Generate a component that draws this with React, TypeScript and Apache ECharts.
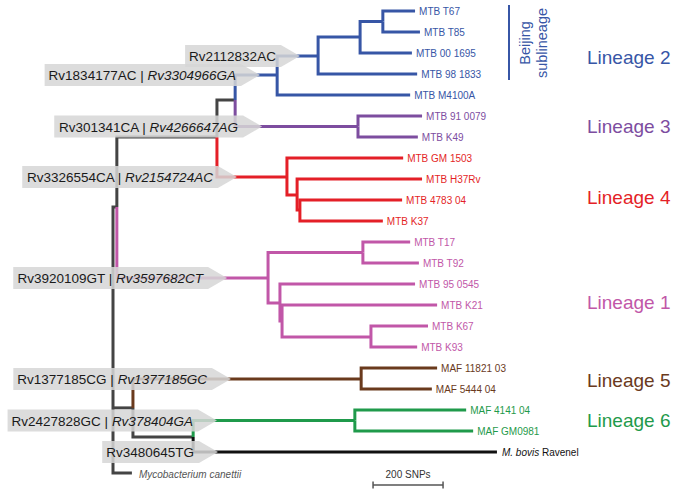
import React, { useEffect, useRef } from "react";
import * as echarts from "echarts";

// ---------- DATA ----------
const cladeKeys = ["L2", "L3", "L4", "L1", "L5", "L6", "bovis", "out"];
const cladeColors = ["#3756a6", "#7d4d9f", "#e41f27", "#c157a8", "#6a3a1d", "#1f9a4b", "#111111", "#444444"];

const leafNames = [
  "MTB T67", "MTB T85", "MTB 00 1695", "MTB 98 1833", "MTB M4100A",
  "MTB 91 0079", "MTB K49",
  "MTB GM 1503", "MTB H37Rv", "MTB 4783 04", "MTB K37",
  "MTB T17", "MTB T92", "MTB 95 0545", "MTB K21", "MTB K67", "MTB K93",
  "MAF 11821 03", "MAF 5444 04",
  "MAF 4141 04", "MAF GM0981",
  "M. bovis Ravenel",
  "Mycobacterium canettii",
];
const leafParents = [
  "L2c", "L2c", "L2b", "L2a", "L2",
  "L3", "L3",
  "L4", "L4b", "L4c", "L4c",
  "L1a", "L1a", "L1b", "L1c", "L1d", "L1d",
  "L5", "L5",
  "L6", "L6",
  "N6b",
  "root",
];
// distance from root, in SNPs
const leafDist = [863, 877, 854, 869, 849, 883, 871, 829, 883, 826, 771, 849, 874, 863, 926, 900, 869, 926, 911, 1009, 1029, 1097, 54];
const leafClade = ["L2", "L2", "L2", "L2", "L2", "L3", "L3", "L4", "L4", "L4", "L4", "L1", "L1", "L1", "L1", "L1", "L1", "L5", "L5", "L6", "L6", "bovis", "out"];

const nodeIds = ["root", "N1234", "Nmod", "N23", "L2", "L2a", "L2b", "L2c", "L3", "L4", "L4b", "L4c", "L1", "L1a", "L1b", "L1c", "L1d", "N56", "L5", "N6b", "L6"];
const nodeParents = ["", "root", "N1234", "Nmod", "N23", "L2", "L2a", "L2b", "N23", "Nmod", "L4", "L4b", "N1234", "L1", "L1", "L1b", "L1c", "root", "N56", "N56", "N6b"];
const nodeDist = [0, 11, 297, 349, 469, 586, 706, 771, 700, 497, 526, 534, 443, 714, 477, 483, 737, 57, 709, 229, 691];
const nodeRow = [18.9, 9.33, 6, 4.24, 3.05, 2.14, 1.24, 0.5, 5.5, 7.9, 8.76, 9.48, 12.71, 11.5, 13.9, 14.76, 15.52, 18.9, 17.52, 20.29, 19.5];
const nodeClade = ["out", "out", "out", "out", "L2", "L2", "L2", "L2", "L3", "L4", "L4", "L4", "L1", "L1", "L1", "L1", "L1", "out", "L5", "out", "L6"];

// SNP markers on branches
const arrowPlain = ["Rv2112832AC", "Rv1834177AC", "Rv301341CA", "Rv3326554CA", "Rv3920109GT", "Rv1377185CG", "Rv2427828GC", "Rv3480645TG"];
const arrowItalic = ["", "Rv3304966GA", "Rv4266647AG", "Rv2154724AC", "Rv3597682CT", "Rv1377185GC", "Rv378404GA", ""];
const arrowOn = ["L2a", "L2", "L3", "L4", "L1", "L5", "L6", "M. bovis Ravenel"];
const arrowTipSNP = [534, 420, 426, 354, 326, 337, 297, 300];

const lineageLabels = ["Lineage 2", "Lineage 3", "Lineage 4", "Lineage 1", "Lineage 5", "Lineage 6"];
const scaleBarSNPs = 200;

// ---------- HELPERS ----------
const FONT = "'Liberation Sans', Arial, Helvetica, sans-serif";
const colorOf = (c: string) => cladeColors[cladeKeys.indexOf(c)];

let measureCtx: CanvasRenderingContext2D | null = null;
function measure(text: string, font: string) {
  if (!measureCtx) measureCtx = document.createElement("canvas").getContext("2d");
  if (!measureCtx) return text.length * 7;
  measureCtx.font = font;
  return measureCtx.measureText(text).width;
}

function posOf(id: string): [number, number] {
  const ni = nodeIds.indexOf(id);
  if (ni >= 0) return [nodeDist[ni], nodeRow[ni]];
  const li = leafNames.indexOf(id);
  return [leafDist[li], li];
}

export default function App() {
  const ref = useRef<HTMLDivElement>(null);

  useEffect(() => {
    if (!ref.current) return;
    const chart = echarts.init(ref.current, undefined, { renderer: "svg" });

    // branch elbows: [parentDist, parentRow, childRow, childDist, cladeIndex]
    const branches: number[][] = [];
    nodeIds.forEach((id, i) => {
      if (!nodeParents[i]) return;
      const p = posOf(nodeParents[i]);
      branches.push([p[0], p[1], nodeRow[i], nodeDist[i], cladeKeys.indexOf(nodeClade[i])]);
    });
    leafNames.forEach((n, i) => {
      const p = posOf(leafParents[i]);
      branches.push([p[0], p[1], i, leafDist[i], cladeKeys.indexOf(leafClade[i])]);
    });

    const leafData = leafNames.map((n, i) => [leafDist[i], i]);
    const arrowData = arrowOn.map((id, i) => [arrowTipSNP[i], posOf(id)[1]]);

    const option: any = {
      animation: false,
      backgroundColor: "#ffffff",
      grid: { left: 113, top: 11, width: 560, height: 462 },
      xAxis: { type: "value", min: 0, max: 1600, show: false },
      yAxis: { type: "value", min: 0, max: 22, inverse: true, show: false },
      series: [
        {
          type: "custom",
          z: 2,
          silent: true,
          data: branches,
          renderItem: (params: any, api: any) => {
            const a = api.coord([api.value(0), api.value(1)]);
            const b = api.coord([api.value(0), api.value(2)]);
            const c = api.coord([api.value(3), api.value(2)]);
            return {
              type: "polyline",
              shape: { points: [a, b, c] },
              style: { stroke: cladeColors[api.value(4)], lineWidth: 3, fill: "none", lineJoin: "miter", lineCap: "butt" },
            };
          },
        },
        {
          type: "custom",
          z: 3,
          silent: true,
          data: leafData,
          renderItem: (params: any, api: any) => {
            const i = params.dataIndex;
            const p = api.coord([api.value(0), api.value(1)]);
            const clade = leafClade[i];
            const col = colorOf(clade);
            if (clade === "bovis") {
              return {
                type: "text",
                style: {
                  text: "{i|M. bovis} Ravenel",
                  x: p[0] + 5, y: p[1], verticalAlign: "middle", align: "left",
                  fontSize: 10, fontFamily: FONT, fill: "#111",
                  rich: { i: { fontStyle: "italic", fontSize: 10, fontFamily: FONT, fill: "#111" } },
                },
              };
            }
            if (clade === "out") {
              return {
                type: "text",
                style: {
                  text: leafNames[i], x: p[0] + 7, y: p[1] + 1, verticalAlign: "middle", align: "left",
                  fontSize: 10, fontStyle: "italic", fontFamily: FONT, fill: "#555",
                },
              };
            }
            return {
              type: "text",
              style: {
                text: leafNames[i], x: p[0] + 4, y: p[1], verticalAlign: "middle", align: "left",
                fontSize: 10, fontFamily: FONT, fill: col,
              },
            };
          },
        },
        {
          type: "custom",
          z: 10,
          silent: true,
          data: arrowData,
          renderItem: (params: any, api: any) => {
            const i = params.dataIndex;
            const p = api.coord([api.value(0), api.value(1)]);
            const tipX = p[0], cy = p[1];
            const plain = arrowPlain[i], ital = arrowItalic[i];
            const fs = 13.5;
            const w = ital
              ? measure(plain + " | ", `${fs}px ${FONT}`) + measure(ital, `italic ${fs}px ${FONT}`)
              : measure(plain, `${fs}px ${FONT}`);
            const textRight = tipX - 24;
            const left = textRight - w - 4;
            const bodyRight = tipX - 19;
            const h = 11;
            return {
              type: "group",
              children: [
                {
                  type: "polygon",
                  shape: { points: [[left, cy - h], [bodyRight, cy - h], [tipX, cy], [bodyRight, cy + h], [left, cy + h]] },
                  style: { fill: "rgba(214,214,214,0.86)" },
                },
                {
                  type: "text",
                  style: {
                    text: ital ? `${plain} | {i|${ital}}` : plain,
                    x: textRight, y: cy + 0.5, align: "right", verticalAlign: "middle",
                    fontSize: fs, fontFamily: FONT, fill: "#1a1a1a",
                    rich: { i: { fontStyle: "italic", fontSize: fs, fontFamily: FONT, fill: "#1a1a1a" } },
                  },
                },
              ],
            };
          },
        },
        {
          type: "custom",
          z: 3,
          silent: true,
          data: [[743, 22.57]],
          renderItem: (params: any, api: any) => {
            const a = api.coord([api.value(0), api.value(1)]);
            const b = api.coord([api.value(0) + scaleBarSNPs, api.value(1)]);
            const st = { stroke: "#555", lineWidth: 1.5 };
            return {
              type: "group",
              children: [
                { type: "line", shape: { x1: a[0], y1: a[1], x2: b[0], y2: b[1] }, style: st },
                { type: "line", shape: { x1: a[0], y1: a[1] - 3.5, x2: a[0], y2: a[1] + 3.5 }, style: st },
                { type: "line", shape: { x1: b[0], y1: b[1] - 3.5, x2: b[0], y2: b[1] + 3.5 }, style: st },
                {
                  type: "text",
                  style: {
                    text: `${scaleBarSNPs} SNPs`, x: (a[0] + b[0]) / 2, y: a[1] - 10,
                    align: "center", verticalAlign: "middle", fontSize: 10, fontFamily: FONT, fill: "#333",
                  },
                },
              ],
            };
          },
        },
      ],
      graphic: [
        ...lineageLabels.map((t, i) => ({
          type: "text",
          x: 587,
          y: [57, 126, 197, 302, 380, 420][i],
          z: 20,
          style: {
            text: t, fontSize: 19, fontFamily: FONT,
            fill: colorOf(["L2", "L3", "L4", "L1", "L5", "L6"][i]),
            align: "left", verticalAlign: "middle",
          },
        })),
        {
          type: "line", z: 20,
          shape: { x1: 509, y1: 5, x2: 509, y2: 80 },
          style: { stroke: colorOf("L2"), lineWidth: 2 },
        },
        {
          type: "text", z: 20,
          x: 533, y: 43, rotation: Math.PI / 2,
          style: {
            text: "Beijing\nsublineage", fontSize: 14.5, lineHeight: 17, fontFamily: FONT,
            fill: colorOf("L2"), align: "center", verticalAlign: "middle",
          },
        },
      ],
    };

    chart.setOption(option);
    return () => chart.dispose();
  }, []);

  return <div ref={ref} style={{ position: "absolute", left: 0, top: 0, width: 675, height: 492 }} />;
}
